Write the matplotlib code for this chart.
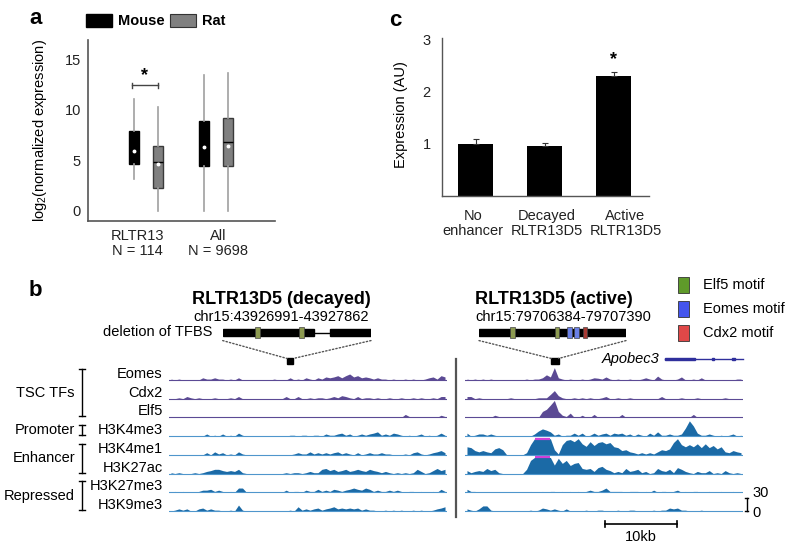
import numpy as np
import matplotlib
matplotlib.use('Agg')
import matplotlib.pyplot as plt
from matplotlib.patches import Rectangle, ConnectionPatch

plt.rcParams['font.family'] = ['Liberation Sans', 'DejaVu Sans']
plt.rcParams['mathtext.fontset'] = 'custom'
plt.rcParams['mathtext.rm'] = 'Liberation Sans'

# ---------------- data ----------------
# panel a : box plot summaries (log2 normalized expression)
a_groups = ['RLTR13\nN = 114', 'All\nN = 9698']
mouse_whislo = [3.1, 0.0]
mouse_q1 = [4.6, 4.4]
mouse_med = [5.9, 6.3]
mouse_q3 = [7.9, 8.9]
mouse_whishi = [11.1, 13.45]
mouse_mean = [5.9, 6.3]
rat_whislo = [0.0, 0.0]
rat_q1 = [2.2, 4.45]
rat_med = [4.8, 6.8]
rat_q3 = [6.4, 9.15]
rat_whishi = [10.3, 13.6]
rat_mean = [4.65, 6.4]

# panel c : luciferase expression
c_labels = ['No\nenhancer', 'Decayed\nRLTR13D5', 'Active\nRLTR13D5']
c_values = [1.0, 0.96, 2.29]
c_errors = [0.085, 0.045, 0.085]

# panel b : browser tracks, 70 bins of 0.55 kb each
track_names = ['Eomes', 'Cdx2', 'Elf5', 'H3K4me3', 'H3K4me1', 'H3K27ac', 'H3K27me3', 'H3K9me3']
track_groups = [('TSC TFs', 0, 2), ('Promoter', 3, 3), ('Enhancer', 4, 5), ('Repressed', 6, 7)]

left_tracks = [
    [2,0,2,0,0, 0,0,0,5,2, 2,5,2,2,0, 2,0,5,0,0, 0,0,0,0,0, 0,2,0,0,0, 5,0,2,0,5,
     2,0,5,2,7, 5,7,10,5,10, 14,7,10,5,7, 5,2,5,2,2, 0,2,0,0,2, 0,2,0,0,2, 5,7,2,10,7],
    [0,0,2,0,5, 2,0,2,0,0, 0,2,0,0,0, 2,0,5,0,0, 0,0,0,0,0, 0,0,0,0,5, 0,0,5,0,0,
     2,0,2,2,0, 2,5,2,7,5, 2,0,5,0,2, 2,0,2,0,0, 2,0,0,2,0, 0,2,0,2,0, 0,2,0,5,5],
    [0,0,0,0,0, 0,0,0,0,0, 0,0,0,0,0, 2,2,0,0,0, 0,0,0,0,0, 0,0,0,0,2, 0,0,2,0,0,
     0,2,0,2,0, 2,0,2,2,0, 2,0,2,0,0, 0,0,0,0,0, 0,0,0,0,7, 2,0,0,0,0, 0,0,0,5,2],
    [0,0,0,0,0, 0,0,0,0,5, 0,2,0,5,0, 2,0,7,2,0, 0,0,0,0,0, 0,0,0,0,0, 2,2,0,2,2,
     0,2,2,0,5, 2,2,5,7,2, 5,0,2,5,2, 5,7,10,2,5, 2,7,5,2,0, 2,0,2,5,0, 2,0,2,7,2],
    [0,0,0,0,0, 0,0,0,0,5, 0,7,2,5,0, 2,0,7,2,0, 0,0,0,0,0, 0,0,0,0,0, 0,2,5,2,2,
     7,2,5,2,5, 2,5,7,2,5, 2,0,5,0,2, 5,2,2,5,2, 2,0,0,0,2, 0,5,7,2,0, 2,5,7,10,5],
    [2,0,2,0,0, 0,2,0,2,5, 7,10,10,7,5, 7,5,10,2,0, 0,0,0,0,0, 0,0,0,0,2, 0,2,2,0,2,
     5,2,2,10,12, 7,10,5,7,10, 5,7,10,7,5, 10,7,5,2,5, 2,0,2,0,2, 0,2,10,5,0, 2,7,12,7,10],
    [0,2,0,2,0, 0,0,2,5,5, 7,2,5,2,0, 2,0,10,10,0, 0,0,0,0,0, 0,0,0,0,5, 0,2,2,0,5,
     2,2,7,2,5, 2,7,5,2,5, 7,10,7,5,10, 7,2,5,2,2, 5,2,5,2,0, 2,2,0,2,0, 0,2,0,7,2],
    [0,2,5,2,5, 0,0,5,7,2, 5,2,2,0,0, 2,0,14,2,0, 0,0,0,0,0, 0,0,0,0,0, 2,0,10,2,5,
     2,5,7,2,5, 7,10,5,7,5, 7,5,7,2,5, 2,2,0,0,2, 0,2,0,2,0, 0,2,0,2,0, 0,2,5,7,10],
]

right_tracks = [
    [2,0,2,0,2, 0,2,0,0,0, 0,0,0,0,0, 2,0,2,2,5, 12,7,29,5,2, 0,2,0,0,2, 0,2,5,4,2,
     7,2,0,2,0, 0,2,0,0,2, 5,2,0,9,2, 0,0,0,2,7, 0,0,2,0,5, 0,0,0,0,0, 0,0,0,2,2],
    [5,5,0,2,0, 0,0,0,0,0, 0,2,0,0,0, 0,0,0,2,2, 2,10,19,7,2, 0,0,2,0,2, 0,2,0,0,2,
     5,0,0,2,0, 0,2,0,0,0, 0,0,0,0,5, 0,0,0,0,2, 0,0,0,2,0, 0,0,0,0,0, 2,0,0,0,0],
    [2,0,0,2,2, 0,0,5,2,0, 0,0,0,0,0, 0,0,0,0,14, 19,29,40,14,5, 2,10,0,0,5, 0,0,7,0,0,
     0,0,0,0,7, 0,0,0,0,0, 0,0,0,0,2, 0,2,0,0,2, 0,0,7,0,0, 2,2,0,0,0, 0,0,0,0,0],
    [7,0,2,5,5, 2,5,2,0,0, 0,0,0,0,0, 0,0,5,12,17, 14,10,2,5,0, 2,2,7,2,7, 0,2,7,2,5,
     7,2,7,5,7, 2,5,0,5,2, 0,7,2,10,2, 2,5,2,2,5, 19,36,24,7,2, 2,5,2,0,2, 0,2,5,0,2],
    [19,17,10,7,10, 7,5,14,17,12, 0,0,0,0,0, 5,24,38,38,38, 38,38,12,2,24, 34,36,31,38,26, 20,31,22,29,31,
     26,29,19,17,10, 12,7,5,2,5, 2,5,2,7,12, 10,14,29,38,24, 19,24,19,26,17, 26,17,22,14,19, 7,5,10,7,5],
    [7,2,5,7,5, 12,7,10,2,0, 0,0,0,0,0, 10,31,38,38,38, 38,38,20,36,24, 31,19,24,26,12, 10,12,5,14,17,
     10,7,2,5,2, 12,5,7,10,2, 5,0,2,12,7, 5,10,2,14,10, 5,2,0,5,2, 2,7,0,2,0, 7,2,0,2,0],
    [7,2,2,0,0, 0,0,0,0,0, 0,0,0,0,0, 0,2,0,0,2, 0,2,2,0,2, 0,2,0,2,0, 2,5,2,2,5,
     10,2,2,2,2, 0,2,2,2,0, 2,0,5,0,2, 2,0,2,5,0, 2,0,2,2,0, 0,2,0,0,2, 0,0,2,0,2],
    [5,2,0,5,12, 12,2,0,0,0, 0,0,0,0,0, 0,2,0,2,7, 5,2,5,2,0, 5,0,0,0,0, 2,0,0,2,2,
     0,0,0,2,0, 0,2,2,0,0, 0,0,2,0,2, 2,7,5,7,2, 2,0,0,0,2, 0,0,0,0,0, 0,0,0,0,0],
]

BIN_KB = 0.55
# element positions inside each 38.5 kb window (kb) and element lengths (bp)
decayed_pos_kb = 16.35
decayed_len = 871
active_pos_kb = 11.95
active_len = 1006
# decayed element: blocks and deletion (bp)
decayed_blocks = [(0, 536), (630, 871)]
decayed_motifs = [(190, 219, 'Elf5'), (448, 477, 'Elf5')]
active_blocks = [(0, 1006)]
active_motifs = [(212, 246, 'Elf5'), (520, 549, 'Elf5'), (604, 636, 'Eomes'),
                 (652, 682, 'Eomes'), (709, 741, 'Cdx2')]
# Apobec3 gene model (kb in the active window)
gene_span = (27.7, 38.5)
gene_blocks = [(27.7, 31.9), (34.2, 34.5), (37.0, 37.4)]

# ---------------- style ----------------
W, H = 800, 551
TF_COL = '#5b4a94'
HIST_COL = '#1b6aa6'
HIST_LINE = '#4f96cc'
OVER_COL = '#d040d8'
motif_fill = {'Elf5': '#8c9a50', 'Eomes': '#6a80e6', 'Cdx2': '#a83a34'}
legend_fill = {'Elf5': '#5f9a2a', 'Eomes': '#4455ee', 'Cdx2': '#e04848'}
GAP = 44.2
CLIP = 38


def box(x0, y0, x1, y1):
    return [x0 / W, 1 - y1 / H, (x1 - x0) / W, (y1 - y0) / H]


fig = plt.figure(figsize=(8, 5.51), dpi=100)
ov = fig.add_axes([0, 0, 1, 1])
ov.set_xlim(0, W)
ov.set_ylim(H, 0)
ov.axis('off')

for lab, x, y in [('a', 36, 19), ('b', 35, 290), ('c', 395, 21)]:
    ov.text(x, y, lab, fontsize=16, fontweight='bold', ha='center', va='center')

# ---------------- panel a ----------------
ax_a = fig.add_axes(box(88, 40, 275, 220.7))
pos = np.arange(len(a_groups))
sets = [
    (mouse_whislo, mouse_q1, mouse_med, mouse_q3, mouse_whishi, mouse_mean, -0.17, 'black', 'black'),
    (rat_whislo, rat_q1, rat_med, rat_q3, rat_whishi, rat_mean, 0.17, '#808080', '#3a3a3a'),
]
for lo, q1, med, q3, hi, mean, dx, face, edge in sets:
    stats = [dict(whislo=lo[i], q1=q1[i], med=med[i], q3=q3[i], whishi=hi[i],
                  mean=mean[i], fliers=[]) for i in range(len(a_groups))]
    ax_a.bxp(stats, positions=pos + dx, widths=0.143, showmeans=True, showcaps=False,
             showfliers=False, patch_artist=True, manage_ticks=False,
             boxprops=dict(facecolor=face, edgecolor=edge, linewidth=1),
             whiskerprops=dict(color='#a0a0a0', linewidth=1.2),
             medianprops=dict(color='black', linewidth=1),
             meanprops=dict(marker='o', markersize=1.8, markerfacecolor='white',
                            markeredgecolor='white'))
ax_a.set_xlim(-0.829, 1.843)
ax_a.set_ylim(-1, 16.9)
ax_a.set_yticks([0, 5, 10, 15])
ax_a.set_xticks([-0.12, 1.03])
ax_a.set_xticklabels(a_groups, linespacing=1.1)
ax_a.tick_params(length=0, labelsize=10.5, colors='#222222')
ax_a.tick_params(axis='y', pad=5)
ax_a.tick_params(axis='x', pad=6)
for s in ['top', 'right']:
    ax_a.spines[s].set_visible(False)
for s in ['left', 'bottom']:
    ax_a.spines[s].set_color('#555555')
    ax_a.spines[s].set_linewidth(1.2)
ax_a.set_ylabel('log$_{\\mathregular{2}}$(normalized expression)', fontsize=10.5)
ax_a.yaxis.set_label_coords(-0.209, 0.5)
# significance bracket
ax_a.plot([-0.2, 0.17], [12.4, 12.4], color='#444444', lw=1)
ax_a.plot([-0.2, -0.2], [12.15, 12.65], color='#444444', lw=1)
ax_a.plot([0.17, 0.17], [12.15, 12.65], color='#444444', lw=1)
ax_a.text(-0.015, 12.9, '*', fontsize=13, fontweight='bold', ha='center', va='baseline')

# panel a legend
ov.add_patch(Rectangle((86, 14), 26, 13.3, facecolor='black', edgecolor='black'))
ov.text(117.7, 20.7, 'Mouse', fontsize=10.5, fontweight='bold', va='center')
ov.add_patch(Rectangle((170, 14), 25.7, 13.3, facecolor='#808080', edgecolor='#333333', lw=0.8))
ov.text(201.7, 20.7, 'Rat', fontsize=10.5, fontweight='bold', va='center')

# ---------------- panel c ----------------
ax_c = fig.add_axes(box(441.7, 38, 649, 195.5))
xc = np.arange(len(c_labels))
ax_c.bar(xc, c_values, width=0.5, color='black')
ax_c.errorbar(xc, c_values, yerr=[np.zeros(len(xc)), c_errors], fmt='none',
              ecolor='#333333', elinewidth=0.8, capsize=2, capthick=0.8)
ax_c.set_xlim(-0.49, 2.51)
ax_c.set_ylim(0, 3.03)
ax_c.set_yticks([1, 2, 3])
ax_c.set_xticks([-0.04, 1.03, 2.17])
ax_c.set_xticklabels(c_labels, linespacing=1.1)
ax_c.tick_params(length=0, labelsize=10.5, colors='#222222')
ax_c.tick_params(axis='y', pad=8)
ax_c.tick_params(axis='x', pad=10)
for s in ['top', 'right']:
    ax_c.spines[s].set_visible(False)
for s in ['left', 'bottom']:
    ax_c.spines[s].set_color('#555555')
    ax_c.spines[s].set_linewidth(1)
ax_c.set_ylabel('Expression (AU)', fontsize=10.5)
ax_c.yaxis.set_label_coords(-0.163, 0.517)
ax_c.text(2, 2.52, '*', fontsize=13, fontweight='bold', ha='center', va='baseline')

# ---------------- panel b ----------------
x_kb = (np.arange(70) + 0.5) * BIN_KB


def draw_tracks(ax, tracks):
    for k, vals in enumerate(tracks):
        base = (len(tracks) - 1 - k) * GAP
        v = np.asarray(vals, float)
        is_tf = k < 3
        top = v if is_tf else np.minimum(v, CLIP)
        ax.axhline(base, color=TF_COL if is_tf else HIST_LINE, lw=0.8)
        ax.fill_between(x_kb, base, base + top, color=TF_COL if is_tf else HIST_COL, lw=0)
        if not is_tf:
            over = np.where(v >= CLIP, base + CLIP, np.nan)
            ax.plot(x_kb, over, color=OVER_COL, lw=1.6, solid_capstyle='butt')
    ax.set_xlim(0, 38.5)
    ax.set_ylim(-4.72, 380)
    ax.axis('off')


ax_l = fig.add_axes(box(169, 350, 447, 513))
ax_r = fig.add_axes(box(465, 350, 743, 513))
draw_tracks(ax_l, left_tracks)
draw_tracks(ax_r, right_tracks)

# track labels
for k, name in enumerate(track_names):
    base = (len(track_names) - 1 - k) * GAP
    ax_l.annotate(name, xy=(0, base + 14), xytext=(-4.5, 0), textcoords='offset points',
                  ha='right', va='center', fontsize=10.5, annotation_clip=False)

# group brackets
base_px = [511 - (len(track_names) - 1 - k) * 18.71 for k in range(len(track_names))]
for name, k0, k1 in track_groups:
    y0 = base_px[k0] - 11
    y1 = base_px[k1] - 1
    ov.plot([82, 82], [y0, y1], color='black', lw=1)
    ov.plot([79, 85], [y0, y0], color='black', lw=1)
    ov.plot([79, 85], [y1, y1], color='black', lw=1)
    ov.text(75, (y0 + y1) / 2, name, ha='right', va='center', fontsize=10.5)

# element positions on the tracks
ax_l.add_patch(Rectangle((decayed_pos_kb, 348), decayed_len / 1000, 12, color='black', clip_on=False))
ax_r.add_patch(Rectangle((active_pos_kb, 348), active_len / 1000, 12, color='black', clip_on=False))

# gene model
ax_r.plot(gene_span, [358.7, 358.7], color='#2f2f9c', lw=1, clip_on=False)
for g0, g1 in gene_blocks:
    ax_r.add_patch(Rectangle((g0, 355.5), g1 - g0, 6.5, color='#2f2f9c', clip_on=False))
ax_r.text(gene_span[0] - 0.7, 358.7, 'Apobec3', style='italic', fontsize=10.5,
          ha='right', va='center')

# scale bars
ax_r.plot([39.0, 39.0], [0, 30], color='black', lw=1, clip_on=False)
ax_r.plot([38.75, 39.25], [30, 30], color='black', lw=1, clip_on=False)
ax_r.plot([38.75, 39.25], [0, 0], color='black', lw=1, clip_on=False)
ax_r.text(39.75, 42.5, '30', fontsize=10.5, ha='left', va='center')
ax_r.text(39.75, -4.7, '0', fontsize=10.5, ha='left', va='center')
ax_r.plot([19.4, 29.4], [-30.7, -30.7], color='black', lw=1.2, clip_on=False)
ax_r.plot([19.4, 19.4], [-37, -24.4], color='black', lw=1.2, clip_on=False)
ax_r.plot([29.4, 29.4], [-37, -24.4], color='black', lw=1.2, clip_on=False)
ax_r.text(24.4, -61, '10kb', fontsize=10.5, ha='center', va='center')

# separator
ov.plot([456, 456], [359, 517], color='#555555', lw=1.6)


def draw_element(ax, length, blocks, motifs):
    ax.set_xlim(0, length)
    ax.set_ylim(-1, 1)
    ax.axis('off')
    for b0, b1 in blocks:
        ax.add_patch(Rectangle((b0, -0.37), b1 - b0, 0.74, color='black'))
    if len(blocks) > 1:
        for (a0, a1), (b0, b1) in zip(blocks[:-1], blocks[1:]):
            ax.plot([a1, b0], [0, 0], color='black', lw=1)
    for m0, m1, kind in motifs:
        ax.add_patch(Rectangle((m0, -0.58), m1 - m0, 1.16, facecolor=motif_fill[kind],
                               edgecolor='#444444', lw=0.5))


ax_dec = fig.add_axes(box(222.7, 323, 371, 342))
draw_element(ax_dec, decayed_len, decayed_blocks, decayed_motifs)
ax_act = fig.add_axes(box(479, 323, 626, 342))
draw_element(ax_act, active_len, active_blocks, active_motifs)

for ax_e, ax_t, p, ln in [(ax_dec, ax_l, decayed_pos_kb, decayed_len),
                          (ax_act, ax_r, active_pos_kb, active_len)]:
    for xa, xb in [(0, p), (ln, p + ln / 1000)]:
        con = ConnectionPatch(xyA=(xa, -0.85), coordsA=ax_e.transData,
                              xyB=(xb, 360), coordsB=ax_t.transData,
                              linestyle=(0, (1, 1.5)), color='#555555', lw=1)
        fig.add_artist(con)

ov.text(192, 299, 'RLTR13D5 (decayed)', fontsize=13, fontweight='bold', ha='left', va='center')
ov.text(193, 317, 'chr15:43926991-43927862', fontsize=10.5, ha='left', va='center')
ov.text(212, 332, 'deletion of TFBS', fontsize=10.5, ha='right', va='center')
ov.text(475, 299, 'RLTR13D5 (active)', fontsize=13, fontweight='bold', ha='left', va='center')
ov.text(475, 317, 'chr15:79706384-79707390', fontsize=10.5, ha='left', va='center')

# motif legend
for i, kind in enumerate(['Elf5', 'Eomes', 'Cdx2']):
    y = 277 + i * 24
    ov.add_patch(Rectangle((678, y), 11, 16, facecolor=legend_fill[kind], edgecolor='#333333', lw=0.6))
    ov.text(703, y + 8, kind + ' motif', fontsize=10.5, ha='left', va='center')

fig.savefig('out.png', dpi=100)
